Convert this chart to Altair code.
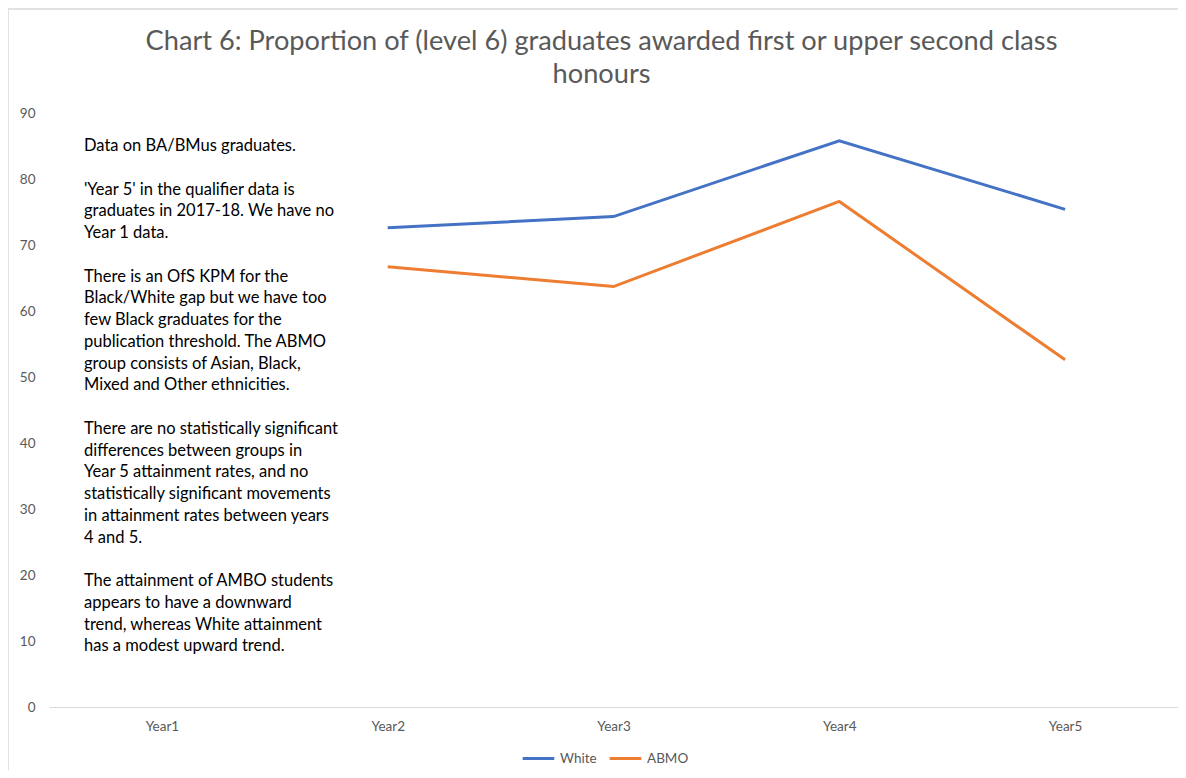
import altair as alt
import pandas as pd

years = ["Year1", "Year2", "Year3", "Year4", "Year5"]
series_names = ["White", "ABMO"]
white = [None, 72.6, 74.3, 85.8, 75.4]
abmo = [None, 66.7, 63.7, 76.6, 52.6]
colors = ["#4472C4", "#ED7D31"]

title_lines = [
    "Chart 6: Proportion of (level 6) graduates awarded first or upper second class",
    "honours",
]
note_paragraphs = [
    ["Data on BA/BMus graduates."],
    ["'Year 5' in the qualifier data is",
     "graduates in 2017-18. We have no",
     "Year 1 data."],
    ["There is an OfS KPM for the",
     "Black/White gap but we have too",
     "few Black graduates for the",
     "publication threshold. The ABMO",
     "group consists of Asian, Black,",
     "Mixed and Other ethnicities."],
    ["There are no statistically significant",
     "differences between groups in",
     "Year 5 attainment rates, and no",
     "statistically significant movements",
     "in attainment rates between years",
     "4 and 5."],
    ["The attainment of AMBO students",
     "appears to have a downward",
     "trend, whereas White attainment",
     "has a modest upward trend."],
]

rows = []
for name, vals in zip(series_names, [white, abmo]):
    for y, v in zip(years, vals):
        if v is not None:
            rows.append({"Year": y, "Series": name, "Value": v})
df = pd.DataFrame(rows)

W, H = 1129, 594
FONT = "Lato"
GREY = "#595959"
LH = 21.75

lines = alt.Chart(df).mark_line(strokeWidth=3).encode(
    x=alt.X("Year:N", scale=alt.Scale(type="point", domain=years, padding=0.5),
            axis=alt.Axis(title=None, labelAngle=0, ticks=False, domainColor="#d9d9d9",
                          labelColor=GREY, labelFontSize=13.5, labelFont=FONT, labelPadding=12,
                          grid=False)),
    y=alt.Y("Value:Q", scale=alt.Scale(domain=[0, 90]),
            axis=alt.Axis(title=None, values=list(range(0, 91, 10)), domain=False, ticks=False,
                          grid=False, labelColor=GREY, labelFontSize=13.5, labelFont=FONT,
                          labelPadding=14)),
    color=alt.Color("Series:N", scale=alt.Scale(domain=series_names, range=colors),
                    legend=alt.Legend(title=None, orient="none", direction="horizontal",
                                      legendX=472, legendY=628, symbolType="stroke",
                                      symbolSize=1000, symbolStrokeWidth=3,
                                      labelColor=GREY, labelFontSize=13.5, labelFont=FONT,
                                      labelOffset=4, columnPadding=6)),
    order=alt.Order("Year:N"),
)

one = pd.DataFrame({"a": [0]})
notes = []
line_idx = 0
for para in note_paragraphs:
    notes.append(
        alt.Chart(one).mark_text(
            align="left", baseline="middle", font=FONT, fontSize=16.5, color="#000000",
            lineHeight=LH,
        ).encode(x=alt.value(35), y=alt.value(33 + line_idx * LH), text=alt.value(para))
    )
    line_idx += len(para) + 1

title = alt.Chart(one).mark_text(
    align="center", baseline="middle", font=FONT, fontSize=27.2, color=GREY,
    lineHeight=33,
).encode(x=alt.value(W / 2 - 12), y=alt.value(-71), text=alt.value(title_lines))

border_left = alt.Chart(one).mark_rule(color="#d9d9d9", strokeWidth=1.5).encode(
    x=alt.value(-41), y=alt.value(-104), y2=alt.value(H + 70))
border_top = alt.Chart(one).mark_rule(color="#d9d9d9", strokeWidth=1.5).encode(
    y=alt.value(-104), x=alt.value(-41), x2=alt.value(W + 10))

chart = alt.layer(border_left, border_top, lines, *notes, title).properties(
    width=W, height=H,
    autosize=alt.AutoSizeParams(type="none"),
    padding={"left": 41, "top": 105, "right": 0, "bottom": 63},
).configure_view(stroke=None)

chart.save("out.html", embed_options={"renderer": "svg", "actions": False})
